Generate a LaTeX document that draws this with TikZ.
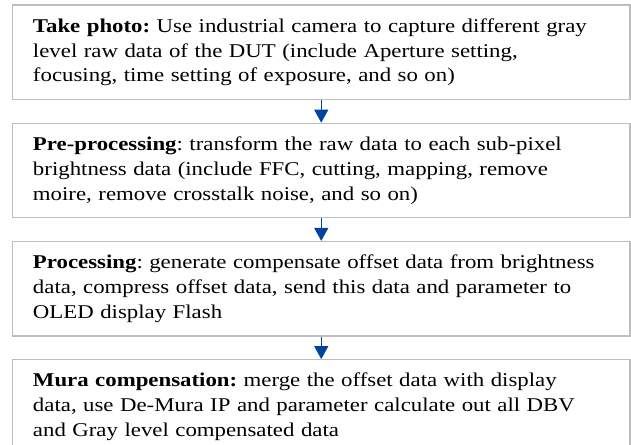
\documentclass[tikz,border=0pt]{standalone}
\usepackage{fontspec}
\setmainfont{Liberation Serif}[FakeStretch=1.17]
\usetikzlibrary{positioning,arrows.meta}
\definecolor{boxgray}{RGB}{190,190,190}
\definecolor{arrowblue}{RGB}{0,68,160}
\frenchspacing

\begin{document}
\begin{tikzpicture}[x=1bp, y=1bp,
  stepbox/.style={draw=boxgray, line width=1.2bp, minimum width=617.5bp, minimum height=94.5bp,
    text width=576.5bp, inner xsep=20.5bp, align=left, font={\fontsize{19.5bp}{24.8bp}\selectfont},
    execute at begin node={\hyphenpenalty=10000}},
  flow/.style={arrowblue, line width=1.2bp, -{Triangle[width=14bp,length=13bp]}},
  node distance=22.5bp]
\useasboundingbox (0,0) rectangle (631,-445);
\node[stepbox, anchor=north] (photo) at (321.25,-4.5) {\textbf{Take photo:} Use industrial camera to capture different gray\\
level raw data of the DUT (include Aperture setting,\\
focusing, time setting of exposure, and so on)};
\node[stepbox, below=of photo] (pre) {\textbf{Pre-processing}: transform the raw data to each sub-pixel\\
brightness data (include FFC, cutting, mapping, remove\\
moire, remove crosstalk noise, and so on)};
\node[stepbox, below=of pre] (proc) {\textbf{Processing}: generate compensate offset data from brightness\\
data, compress offset data, send this data and parameter to\\
OLED display Flash};
\node[stepbox, below=of proc] (mura) {\textbf{Mura compensation:} merge the offset data with display\\
data, use De-Mura IP and parameter calculate out all DBV\\
and Gray level compensated data};
\draw[flow] (photo) -- (pre);
\draw[flow] (pre) -- (proc);
\draw[flow] (proc) -- (mura);
\end{tikzpicture}
\end{document}
